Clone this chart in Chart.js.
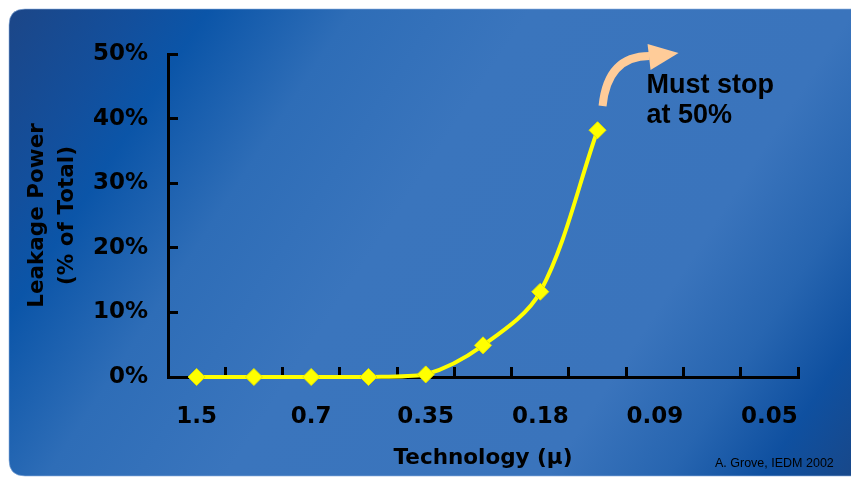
<!DOCTYPE html>
<html><head><meta charset="utf-8">
<script src="https://cdn.jsdelivr.net/npm/chart.js@4/dist/chart.umd.min.js"></script>
<style>html,body{margin:0;padding:0;background:#fff;overflow:hidden}canvas{display:block}</style>
</head><body>
<canvas id="c" width="851" height="477"></canvas>
<script>
// ---- data ----
const categories = ['1.5','1.0','0.7','0.5','0.35','0.25','0.18','0.13','0.09','0.065','0.05'];
const shownTickLabels = ['1.5','0.7','0.35','0.18','0.09','0.05'];
const leakagePercent = [0, 0, 0, 0, 0.4, 4.9, 13.2, 38.2];
const yTickValues = [0, 10, 20, 30, 40, 50];
const xTitle = 'Technology (\u03bc)';
const yTitle = ['Leakage Power', '(% of Total)'];
const noteLines = ['Must stop', 'at 50%'];
const sourceNote = 'A. Grove, IEDM 2002';

const backgroundPlugin = {
  id: 'bg',
  beforeDraw(chart) {
    const ctx = chart.ctx, W = chart.width, H = chart.height;
    ctx.save();
    ctx.fillStyle = '#ffffff';
    ctx.fillRect(0, 0, W, H);
    const L = 9, T = 9, R = W + 20, B = H - 1, r = 16;
    ctx.beginPath();
    ctx.moveTo(L + r, T);
    ctx.lineTo(R, T);
    ctx.lineTo(R, B);
    ctx.lineTo(L + r, B);
    ctx.quadraticCurveTo(L, B, L, B - r);
    ctx.lineTo(L, T + r);
    ctx.quadraticCurveTo(L, T, L + r, T);
    ctx.closePath();
    const g = ctx.createLinearGradient(0, 0, 836, 548);
    g.addColorStop(0.00, '#1d4585');
    g.addColorStop(0.12, '#134f9c');
    g.addColorStop(0.18, '#0b55a8');
    g.addColorStop(0.30, '#2e6db7');
    g.addColorStop(0.45, '#3a75bd');
    g.addColorStop(0.72, '#3a74bc');
    g.addColorStop(0.82, '#2765b0');
    g.addColorStop(0.90, '#0f50a0');
    g.addColorStop(1.00, '#1b4582');
    ctx.fillStyle = g;
    ctx.fill();
    ctx.strokeStyle = 'rgba(140,175,220,0.6)';
    ctx.lineWidth = 1;
    ctx.stroke();
    ctx.restore();
  }
};

const annotationPlugin = {
  id: 'notes',
  afterDraw(chart) {
    const ctx = chart.ctx;
    const xs = chart.scales.x, ys = chart.scales.y;
    const ax = xs.getPixelForValue(leakagePercent.length - 1); // last point x
    const ay = ys.getPixelForValue(50);
    ctx.save();
    // curved arrow
    ctx.strokeStyle = '#FFCC99';
    ctx.fillStyle = '#FFCC99';
    ctx.lineWidth = 8;
    ctx.beginPath();
    ctx.moveTo(ax + 5, ay + 52);
    ctx.quadraticCurveTo(ax + 10, ay + 2, ax + 52, ay + 2);
    ctx.stroke();
    ctx.beginPath();
    ctx.moveTo(ax + 50, ay - 10);
    ctx.lineTo(ax + 53, ay + 16);
    ctx.lineTo(ax + 81, ay - 1);
    ctx.closePath();
    ctx.fill();
    // note text
    ctx.fillStyle = '#000';
    ctx.font = 'bold 27px "Liberation Sans", Arial, sans-serif';
    ctx.textBaseline = 'alphabetic';
    ctx.textAlign = 'left';
    ctx.fillText(noteLines[0], ax + 49, ay + 39);
    ctx.fillText(noteLines[1], ax + 49, ay + 69);
    // source
    ctx.font = '12.5px "Liberation Sans", Arial, sans-serif';
    ctx.fillText(sourceNote, 715, 467);
    ctx.restore();
  }
};

new Chart(document.getElementById('c'), {
  type: 'line',
  data: {
    labels: categories,
    datasets: [{
      data: leakagePercent,
      borderColor: '#FFFF00',
      borderWidth: 4,
      tension: 0.33,
      clip: false,
      pointStyle: 'rectRot',
      pointRadius: 8.5,
      pointBackgroundColor: '#FFFF00',
      pointBorderColor: '#E6E600',
      pointBorderWidth: 1,
      fill: false
    }]
  },
  options: {
    responsive: false,
    animation: false,
    devicePixelRatio: 1,
    layout: { padding: { left: 0, top: 54, right: 53, bottom: 0 } },
    plugins: { legend: { display: false }, tooltip: { enabled: false } },
    scales: {
      x: {
        type: 'category',
        offset: true,
        grid: { offset: true, drawOnChartArea: false, drawTicks: true, tickLength: -10, tickWidth: 3, tickColor: '#000', color: '#000' },
        border: { display: true, color: '#000', width: 3 },
        ticks: {
          autoSkip: false, maxRotation: 0, minRotation: 0, padding: 36, color: '#000',
          font: { family: 'DejaVu Sans', weight: 'bold', size: 23 },
          callback: function (v) { const l = this.getLabelForValue(v); return shownTickLabels.includes(l) ? l : ''; }
        },
        title: { display: true, text: xTitle, color: '#000', font: { family: 'DejaVu Sans', weight: 'bold', size: 21.5, lineHeight: 1.2 }, padding: { top: 0, bottom: 6 } },
        afterFit: s => { s.height = 100; }
      },
      y: {
        min: 0, max: 50,
        grid: { drawOnChartArea: false, drawTicks: true, tickLength: -10, tickWidth: 3, tickColor: '#000', color: '#000' },
        border: { display: true, color: '#000', width: 3 },
        afterBuildTicks: s => { s.ticks = yTickValues.map(v => ({ value: v })); },
        ticks: {
          padding: 30, color: '#000',
          font: { family: 'DejaVu Sans', weight: 'bold', size: 23 },
          callback: v => v + '%'
        },
        title: { display: true, text: yTitle, color: '#000', font: { family: 'DejaVu Sans', weight: 'bold', size: 21.5, lineHeight: 1.4 }, padding: { top: 22, bottom: 0 } },
        afterFit: s => { s.width = 168; }
      }
    }
  },
  plugins: [backgroundPlugin, annotationPlugin]
});
</script>
</body></html>
